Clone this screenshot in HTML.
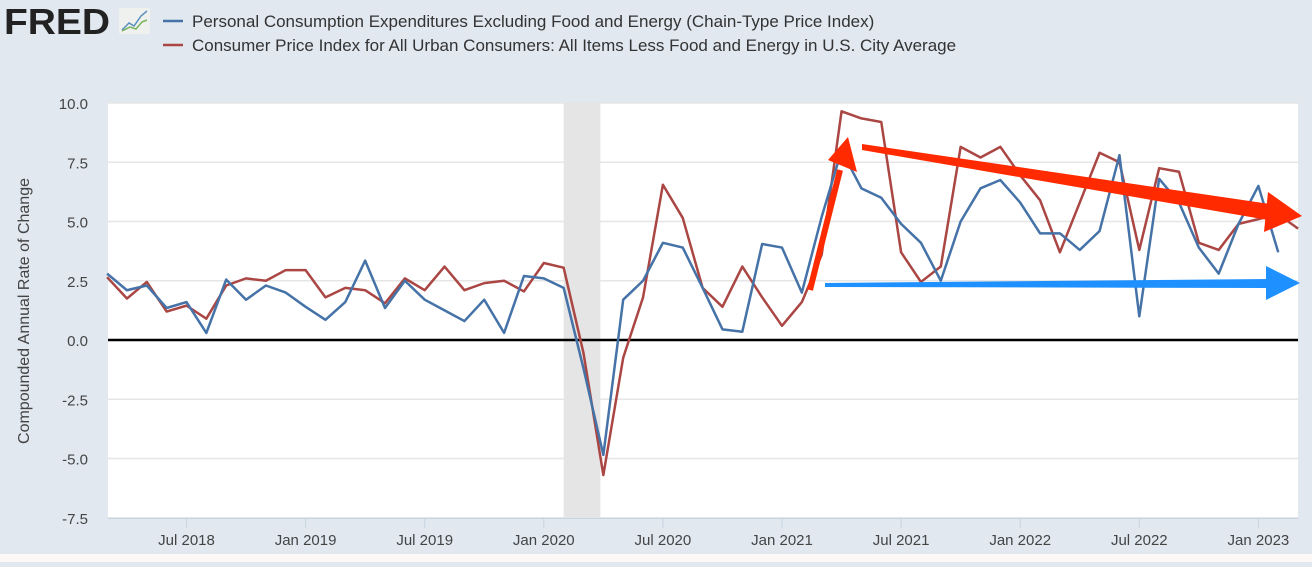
<!DOCTYPE html>
<html><head><meta charset="utf-8"><style>
body{margin:0;width:1312px;height:562px;background:#e1e8f0;font-family:"Liberation Sans",sans-serif;overflow:hidden}
</style></head><body>
<svg width="1312" height="562">
<rect x="0" y="0" width="1312" height="562" fill="#e1e8f0"/>
<rect x="0" y="554" width="1312" height="8" fill="#fbf8f6"/>
<text x="4" y="34" font-size="36" font-weight="bold" fill="#222" font-family="Liberation Sans" textLength="106" lengthAdjust="spacingAndGlyphs">FRED</text>
<g><rect x="119" y="8" width="31" height="26" fill="#eef1ee" rx="2"/><polyline points="122,30 129,23 134,26 141,16 147,11" fill="none" stroke="#5a8fc0" stroke-width="1.5"/><polyline points="122,31 130,27 136,29 142,22 147,20" fill="none" stroke="#7ab55c" stroke-width="1.5"/></g>
<g><line x1="163" y1="21" x2="183" y2="21" stroke="#4572a7" stroke-width="2.5"/><text x="192" y="27" font-size="17" fill="#333">Personal Consumption Expenditures Excluding Food and Energy (Chain-Type Price Index)</text></g>
<g><line x1="163" y1="45" x2="183" y2="45" stroke="#aa4643" stroke-width="2.5"/><text x="192" y="51" font-size="17" fill="#333">Consumer Price Index for All Urban Consumers: All Items Less Food and Energy in U.S. City Average</text></g>
<rect x="108" y="103" width="1190" height="415" fill="#fff"/>
<g id="grid"></g>
<g id="recess"></g>
<g id="series"></g>
<g id="axes"></g>
<text transform="translate(29,311) rotate(-90)" text-anchor="middle" font-size="16" fill="#444">Compounded Annual Rate of Change</text>
<g id="annot">
<line x1="810" y1="290" x2="840" y2="170" stroke="#ff2a00" stroke-width="6"/>
<polygon points="828,160 848,137 857,172" fill="#ff2a00"/>
<polygon points="862,144 1270,204 1268,220 862,150" fill="#ff2a00"/>
<polygon points="1268,192 1302,216 1264,232" fill="#ff2a00"/>
<polygon points="825,283 1270,279 1270,288 825,287" fill="#1e90ff"/>
<polygon points="1266,266 1300,283 1266,300" fill="#1e90ff"/>
</g>
</svg>
<script>
const yTicks=[10,7.5,5,2.5,0,-2.5,-5,-7.5];
const xTickLabels=["Jul 2018","Jan 2019","Jul 2019","Jan 2020","Jul 2020","Jan 2021","Jul 2021","Jan 2022","Jul 2022","Jan 2023"];
const xTickMonths=[4,10,16,22,28,34,40,46,52,58];
const recession=[23.0,24.85];
// monthly from Mar 2018
const pce=[2.8,2.1,2.3,1.35,1.6,0.3,2.55,1.7,2.3,2.0,1.4,0.85,1.6,3.35,1.35,2.5,1.7,1.25,0.8,1.7,0.3,2.7,2.6,2.2,-1.2,-4.85,1.7,2.5,4.1,3.9,2.2,0.45,0.35,4.05,3.9,2.0,5.2,8.0,6.4,6.0,4.9,4.1,2.5,5.0,6.4,6.75,5.8,4.5,4.5,3.8,4.6,7.8,1.0,6.8,5.8,3.9,2.8,4.9,6.5,3.7];
const cpi=[2.65,1.75,2.45,1.2,1.45,0.9,2.3,2.6,2.5,2.95,2.95,1.8,2.2,2.1,1.55,2.6,2.1,3.1,2.1,2.4,2.5,2.05,3.25,3.05,-0.55,-5.7,-0.75,1.8,6.55,5.15,2.2,1.4,3.1,1.8,0.6,1.6,3.6,9.65,9.35,9.2,3.7,2.45,3.1,8.15,7.7,8.15,6.95,5.9,3.7,5.8,7.9,7.5,3.8,7.25,7.1,4.1,3.8,4.9,5.1,5.3,4.7];
const NS="http://www.w3.org/2000/svg";
const y=v=>340-v*23.7;
const x=i=>782+(i-34)*19.85;
function mk(tag,attrs,parent){const e=document.createElementNS(NS,tag);for(const k in attrs)e.setAttribute(k,attrs[k]);parent.appendChild(e);return e;}
const grid=document.getElementById('grid'),axes=document.getElementById('axes'),ser=document.getElementById('series'),rec=document.getElementById('recess');
yTicks.forEach(v=>{
  if(v!==0){const l=mk('line',{x1:108,x2:1298,y1:y(v),y2:y(v),stroke:'#e6e6e6','stroke-width':1.5},grid);
  
  }
  const t=mk('text',{x:88,y:y(v)+6,'text-anchor':'end','font-size':15,fill:'#444'},axes);
  t.textContent=v.toFixed(1);
  
  
});
const r=mk('rect',{x:x(recession[0]),y:103,width:x(recession[1])-x(recession[0]),height:415,fill:'#e5e5e5'},rec);


const ax=mk('line',{x1:108,x2:1298,y1:518.5,y2:518.5,stroke:'#c8d4e0','stroke-width':1},axes);


xTickMonths.forEach((m,k)=>{
  const tk=mk('line',{x1:x(m),x2:x(m),y1:518,y2:528,stroke:'#c8d4e0'},axes);
  
  
  const t=mk('text',{x:x(m),y:545,'text-anchor':'middle','font-size':15,fill:'#444'},axes);
  t.textContent=xTickLabels[k];
  
  
});
const z=mk('line',{x1:108,x2:1298,y1:y(0),y2:y(0),stroke:'#000','stroke-width':2.5},ser);


const p1=mk('polyline',{points:cpi.map((v,i)=>x(i)+','+y(v)).join(' '),fill:'none',stroke:'#aa4643','stroke-width':2.5,'stroke-linejoin':'round'},ser);


const p2=mk('polyline',{points:pce.map((v,i)=>x(i)+','+y(v)).join(' '),fill:'none',stroke:'#4572a7','stroke-width':2.5,'stroke-linejoin':'round'},ser);


</script>
</body></html>
